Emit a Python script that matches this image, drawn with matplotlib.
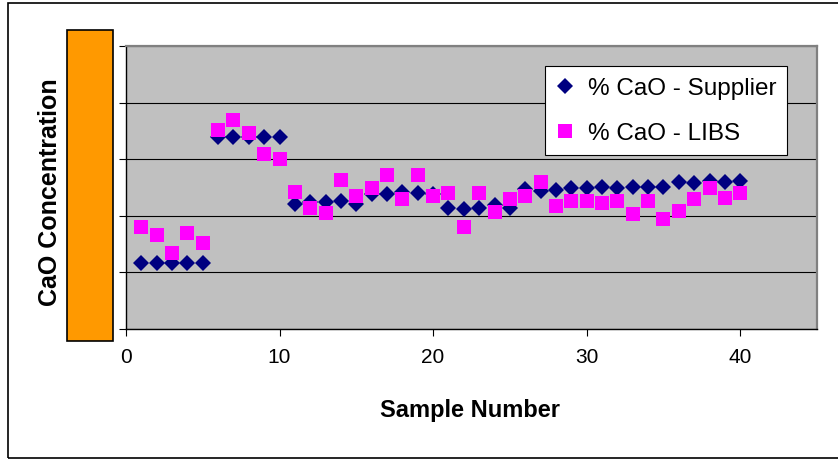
import matplotlib
matplotlib.use("Agg")
import matplotlib.pyplot as plt
from matplotlib.patches import Rectangle

# data (y axis values are hidden in the original)
sample_number = list(range(1, 41))
cao_supplier = [42.33, 42.33, 42.33, 42.33, 42.33,
                46.77, 46.77, 46.77, 46.77, 46.77,
                44.42, 44.49, 44.49, 44.52, 44.42, 44.77, 44.77, 44.84, 44.81, 44.77,
                44.28, 44.24, 44.28, 44.38, 44.28, 44.95, 44.89, 44.92, 44.97, 44.97,
                45.01, 45.00, 45.02, 45.02, 45.02, 45.18, 45.16, 45.24, 45.18, 45.22]
cao_libs = [43.59, 43.32, 42.67, 43.39, 43.04,
            47.04, 47.40, 46.93, 46.19, 46.01,
            44.83, 44.28, 44.09, 45.28, 44.71, 44.98, 45.44, 44.59, 45.44, 44.71,
            44.81, 43.59, 44.81, 44.14, 44.59, 44.71, 45.18, 44.36, 44.53, 44.53,
            44.45, 44.51, 44.08, 44.51, 43.89, 44.16, 44.59, 44.99, 44.63, 44.80]
x_ticks = [0, 10, 20, 30, 40]
y_ticks = [40, 42, 44, 46, 48, 50]

plt.rcParams["font.family"] = ["Liberation Sans", "DejaVu Sans"]

fig = plt.figure(figsize=(8.38, 4.60), dpi=100)
ax = fig.add_axes([126 / 838, 1 - 330 / 460, 691 / 838, 283 / 460])
ax.set_facecolor("#C0C0C0")

ax.plot(sample_number, cao_supplier, linestyle="none", marker="D", markersize=8.5,
        color="#000080", markeredgewidth=0, label="% CaO - Supplier", zorder=3)
ax.plot(sample_number, cao_libs, linestyle="none", marker="s", markersize=9.5,
        color="#FF00FF", markeredgewidth=0, label="% CaO - LIBS", zorder=4)

ax.set_xlim(0, 45)
ax.set_ylim(40, 50)
ax.set_xticks(x_ticks)
ax.set_yticks(y_ticks)
ax.set_yticklabels([])
ax.grid(axis="y", color="black", linewidth=0.8)
ax.set_axisbelow(True)
ax.tick_params(axis="x", direction="out", length=5, width=0.8, labelsize=15, pad=8)
ax.tick_params(axis="y", direction="out", length=5, width=0.8)

for side in ["left", "bottom"]:
    ax.spines[side].set_color("black")
    ax.spines[side].set_linewidth(1.0)
for side in ["top", "right"]:
    ax.spines[side].set_color("#808080")
    ax.spines[side].set_linewidth(1.6)

leg = ax.legend(loc="upper right", bbox_to_anchor=(0.957, 0.929), fontsize=17.5,
                frameon=True, fancybox=False, edgecolor="black", framealpha=1,
                handlelength=0.7, handletextpad=0.6, labelspacing=0.95,
                borderpad=0.45, borderaxespad=0)
leg.get_frame().set_linewidth(0.8)

# orange box sitting over the y tick labels
fig.patches.append(Rectangle((67 / 838, 1 - 342 / 460), 46 / 838, 311 / 460,
                             transform=fig.transFigure, facecolor="#FF9900",
                             edgecolor="black", linewidth=1.2))
# outer chart border
fig.patches.append(Rectangle((8 / 838, 1 - 459 / 460), 1.0, 455 / 460,
                             transform=fig.transFigure, fill=False,
                             edgecolor="black", linewidth=1.2))

fig.text(50 / 838, 1 - 192 / 460, "CaO Concentration", rotation=90,
         ha="center", va="center", fontsize=18, fontweight="bold")
fig.text(470 / 838, 1 - 411 / 460, "Sample Number", ha="center", va="center",
         fontsize=17, fontweight="bold")

fig.savefig("out.png", dpi=100)
